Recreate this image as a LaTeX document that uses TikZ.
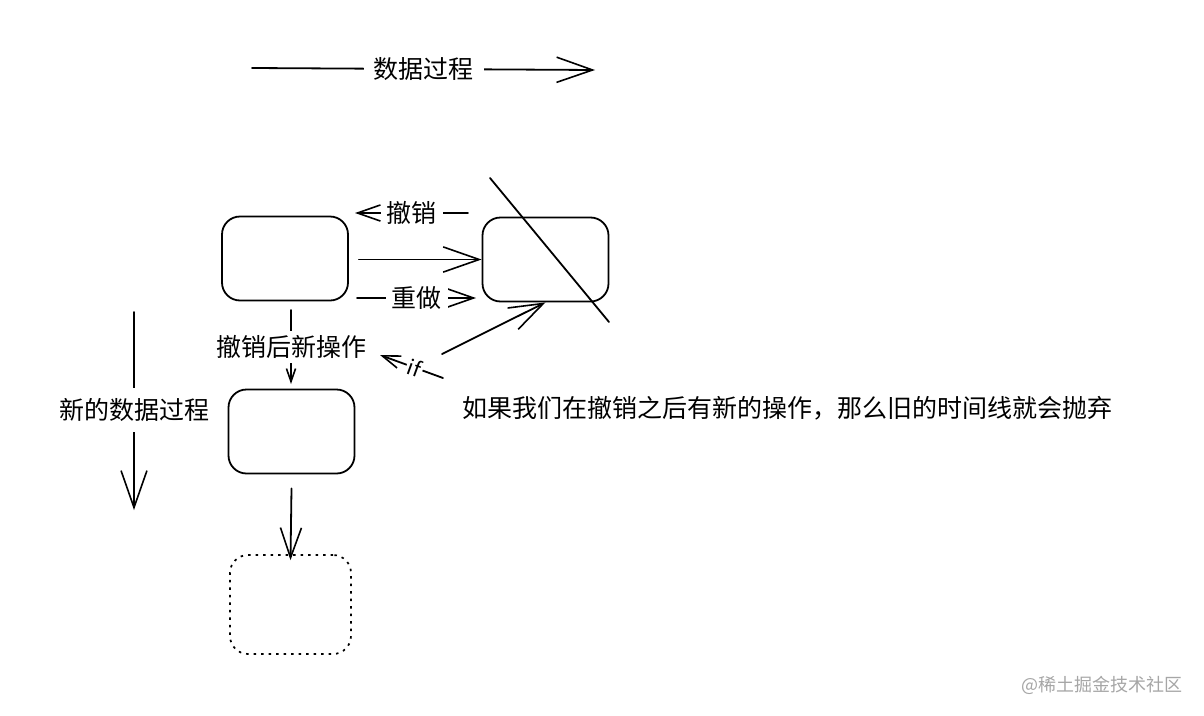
\documentclass[tikz,border=0pt]{standalone}
\usepackage{fontspec}
\setmainfont{Noto Sans CJK SC}
\usetikzlibrary{arrows.meta}
\tikzset{
  box/.style={draw, line width=1.8pt, rounded corners=18pt, minimum width=126pt, minimum height=84pt, inner sep=0pt},
  dotbox/.style={box, line width=1.7pt, dash pattern=on 2.5pt off 5pt},
  lbl/.style={font=\fontsize{25pt}{27pt}\selectfont, inner sep=0pt},
  gaplbl/.style={lbl, fill=white, inner xsep=8pt, inner ysep=2pt},
  ln/.style={line width=1.8pt, line cap=round},
  arr/.style={ln, -{Straight Barb[length=#1, width=0.7*#1, line width=1.6pt]}},
  arr/.default=36pt
}
\begin{document}
\begin{tikzpicture}[x=1pt,y=-1pt]
\useasboundingbox[fill=white] (0,0) rectangle (1204,715);

% top arrow
\coordinate (t1) at (252,68);
\coordinate (t2) at (595,70);
\draw[arr=36pt] (t1) -- node[gaplbl, inner xsep=10pt]{数据过程} (t2);

% boxes
\node[box] (A) at (285,258.5) {};
\node[box] (B) at (545.5,259.5) {};
\node[box] (C) at (291.5,431.5) {};
\node[dotbox, minimum width=121pt, minimum height=99pt] (D) at (290.5,604.5) {};

% strike line
\coordinate (s1) at (490,178);
\coordinate (s2) at (609,322);
\draw[ln] (s1) -- (s2);

% undo arrow
\coordinate (u1) at (468,213);
\coordinate (u2) at (355,213);
\draw[arr=23pt] (u1) -- node[gaplbl, inner xsep=6pt]{撤销} (u2);

% forward arrow
\draw[arr=36pt] ([xshift=10pt,yshift=-1pt]A.east) -- (B.west);

% redo arrow
\coordinate (r1) at (357,298);
\coordinate (r2) at (476,298);
\draw[arr=27pt] (r1) -- node[gaplbl, inner xsep=6pt]{重做} (r2);

% undo then new operation
\coordinate (n1) at (291,310);
\coordinate (n2) at (291,384);
\draw[arr=13pt] (n1) -- node[gaplbl, pos=0.5, inner ysep=4pt]{撤销后新操作} (n2);

% C -> D
\draw[arr=30pt] ([yshift=-14pt]C.south) -- ([yshift=-6pt]D.north);

% new data process
\coordinate (l1) at (134,312);
\coordinate (l2) at (134,510);
\draw[arr=37pt] (l1) -- node[gaplbl, pos=0.495, inner ysep=10pt, inner xsep=2pt]{新的数据过程} (l2);

% if arrows
\coordinate (i1) at (442,354);
\draw[arr=34pt] (i1) -- (B.south);
\coordinate (j1) at (443,378);
\coordinate (j2) at (380,355);
\draw[arr=18pt] (j1) -- node[pos=0.45, sloped, fill=white, inner sep=2pt, font=\fontsize{21pt}{22pt}\selectfont]{if} (j2);

% explanation
\node[lbl] (txt) at (787,408) {如果我们在撤销之后有新的操作，那么旧的时间线就会抛弃};

% watermark
\node[lbl, font=\fontsize{18pt}{20pt}\selectfont, text=black!35] (wm) at (1102,685) {@稀土掘金技术社区};
\end{tikzpicture}
\end{document}
